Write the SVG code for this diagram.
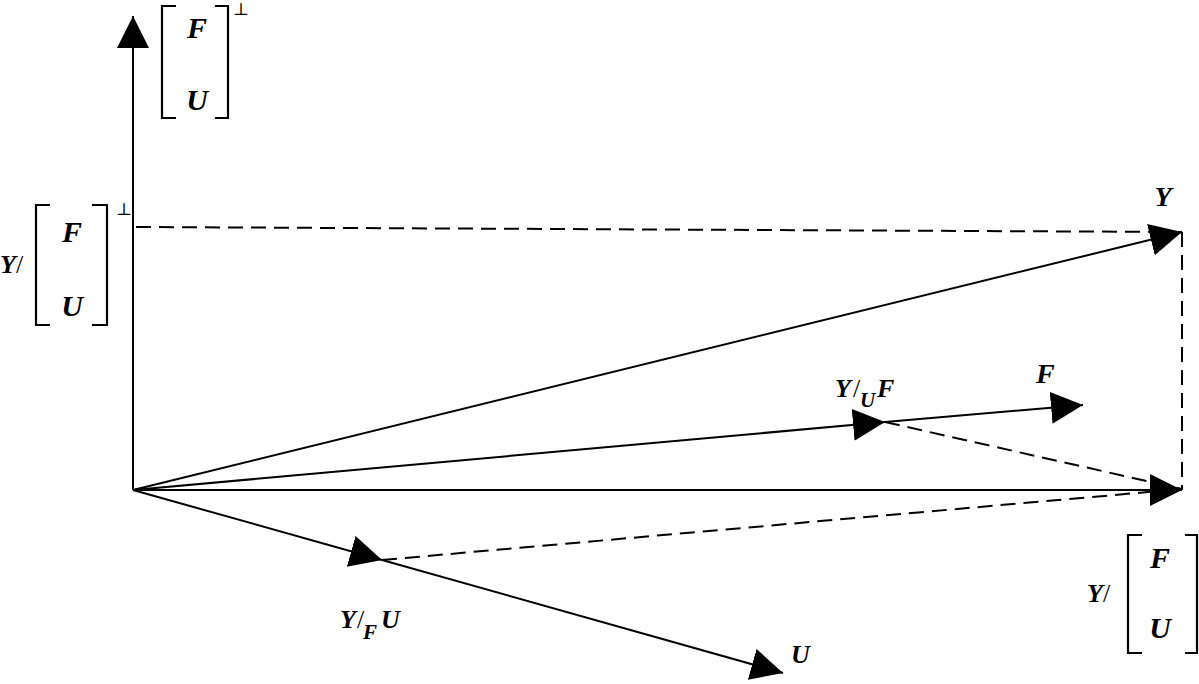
<svg xmlns="http://www.w3.org/2000/svg" width="1199" height="684" viewBox="0 0 1199 684">
<style>
.v{stroke:#000;stroke-width:2;fill:none}
.d{stroke:#000;stroke-width:2;fill:none;stroke-dasharray:15 8}
.br{stroke:#000;stroke-width:2.2;fill:none}
.t{font-family:"Liberation Serif","Times New Roman",serif;font-size:26px;font-weight:bold;font-style:italic;fill:#000}
.big{font-size:30px}
.mid{font-size:28px}
.s{font-weight:normal;font-style:normal}
.sub{font-size:21px}
.perp{font-family:"DejaVu Serif","DejaVu Sans",serif;font-size:17px;fill:#000}
</style>
<defs>
<marker id="ah" markerUnits="userSpaceOnUse" markerWidth="34" markerHeight="34" refX="32" refY="16" orient="auto">
<path d="M0,0 L32,16 L0,32 Z" fill="#000"/>
</marker>
</defs>
<rect width="1199" height="684" fill="#fff"/>
<g id="connectors">
<path class="v" d="M133,490 L133,16" marker-end="url(#ah)"/>
<path class="v" d="M133,490 L1182,490" marker-end="url(#ah)"/>
<path class="v" d="M133,490 L1182,232" marker-end="url(#ah)"/>
<path class="v" d="M133,490 L885,422" marker-end="url(#ah)"/>
<path class="v" d="M885,422 L1083,405" marker-end="url(#ah)"/>
<path class="v" d="M133,490 L382,560" marker-end="url(#ah)"/>
<path class="v" d="M382,560 L783,673" marker-end="url(#ah)"/>
<path class="d" d="M136,227 L1182,232"/>
<path class="d" d="M1182,232 L1182,490"/>
<path class="d" d="M885,422 L1182,489"/>
<path class="d" d="M382,560 L1182,489"/>
</g>
<g id="label-top">
<path class="br" d="M176,6 L162,6 L162,118 L176,118"/>
<path class="br" d="M215,6 L228,6 L228,118 L215,118"/>
<text class="t big" x="197" y="38" text-anchor="middle">F</text>
<text class="t big" x="197" y="110" text-anchor="middle">U</text>
<text class="perp" x="233" y="15">⊥</text>
</g>
<g id="label-left">
<text class="t" x="0" y="273">Y<tspan class="s">/</tspan></text>
<path class="br" d="M50,205 L36,205 L36,325 L50,325"/>
<path class="br" d="M92,205 L107,205 L107,325 L92,325"/>
<text class="t big" x="72" y="242" text-anchor="middle">F</text>
<text class="t big" x="72" y="316" text-anchor="middle">U</text>
<text class="perp" x="116" y="215">⊥</text>
</g>
<g id="label-Y">
<text class="t mid" x="1163" y="206" text-anchor="middle">Y</text>
</g>
<g id="label-F">
<text class="t mid" x="1036" y="383">F</text>
</g>
<g id="label-YUF">
<text class="t" x="835" y="397">Y<tspan class="s" x="853">/</tspan><tspan class="sub" x="860" y="407">U</tspan><tspan x="877" y="397">F</tspan></text>
</g>
<g id="label-YFU">
<text class="t" x="340" y="628">Y<tspan class="s" x="357">/</tspan><tspan class="sub" x="363" y="639">F</tspan><tspan x="381" y="628">U</tspan></text>
</g>
<g id="label-U">
<text class="t" x="791" y="663">U</text>
</g>
<g id="label-bottom-right">
<text class="t" x="1087" y="602">Y<tspan class="s">/</tspan></text>
<path class="br" d="M1142,535 L1128,535 L1128,653 L1142,653"/>
<path class="br" d="M1185,535 L1197,535 L1197,653 L1185,653"/>
<text class="t big" x="1160" y="568" text-anchor="middle">F</text>
<text class="t big" x="1160" y="638" text-anchor="middle">U</text>
</g>
</svg>
